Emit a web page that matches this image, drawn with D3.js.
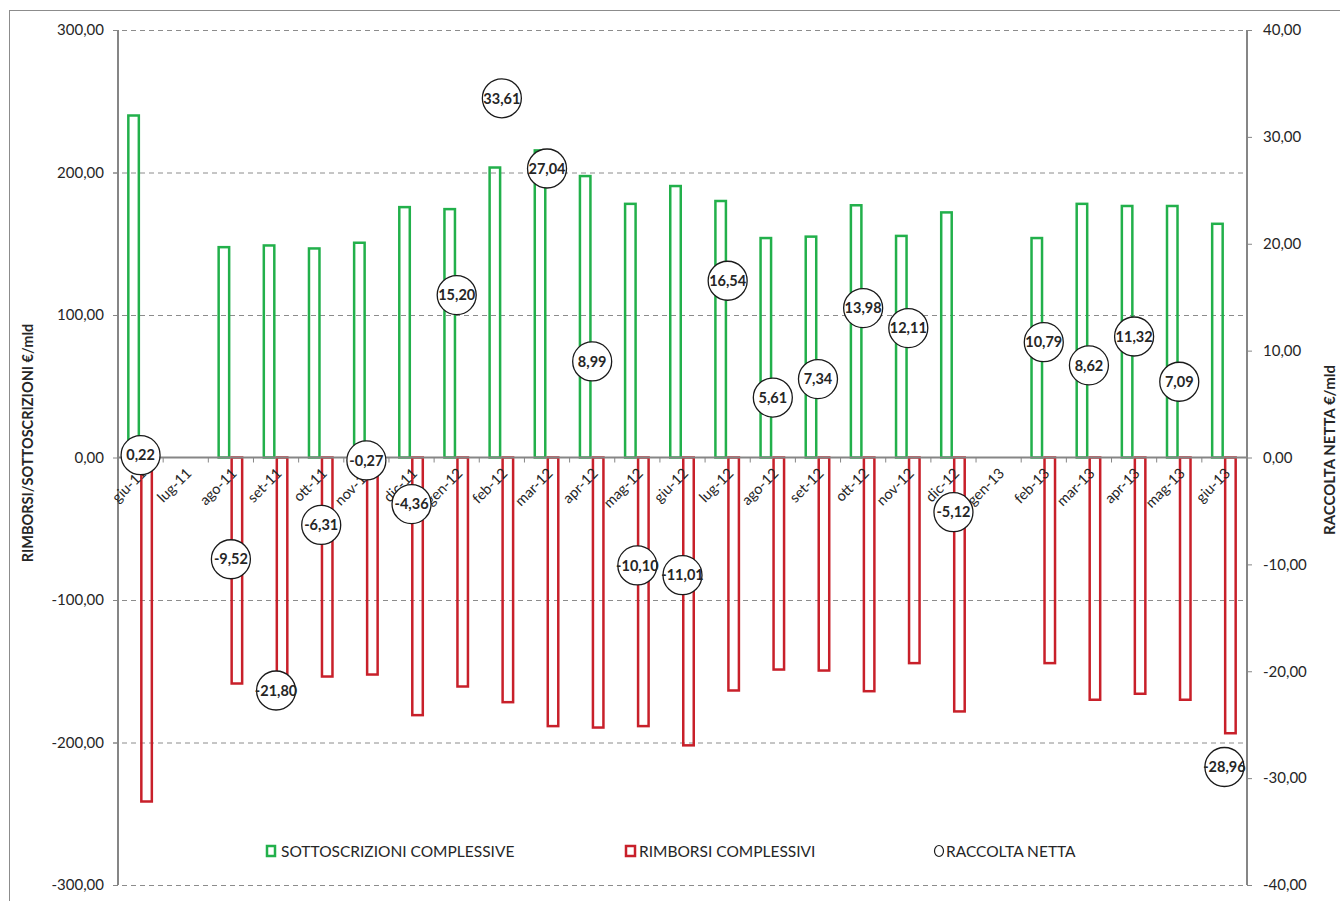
<!DOCTYPE html>
<html><head><meta charset="utf-8">
<script src="https://cdn.jsdelivr.net/npm/d3@7"></script>
<style>body{margin:0;background:#fff}svg{display:block;font-family:Lato,"Open Sans",sans-serif}</style>
</head><body><svg id="c" width="1340" height="901"></svg>
<script>
const categories=["giu-11","lug-11","ago-11","set-11","ott-11","nov-11","dic-11","gen-12","feb-12","mar-12","apr-12","mag-12","giu-12","lug-12","ago-12","set-12","ott-12","nov-12","dic-12","gen-13","feb-13","mar-13","apr-13","mag-13","giu-13"];
const sottoscrizioni=[240,null,147.6,148.8,146.7,150.7,175.7,174.3,203.5,215.5,197.5,178,190.5,180,154,155,177,155.5,172,null,154,178,176.5,176.5,164];
const rimborsi=[-241.4,null,-158.6,-170.8,-153.7,-152.3,-180.8,-160.7,-171.7,-188.5,-189.5,-188.5,-202,-163.5,-148.8,-149.5,-164,-144.3,-178.2,null,-144.3,-170,-165.8,-170,-193.5];
const raccoltaNetta=[0.22,null,-9.52,-21.80,-6.31,-0.27,-4.36,15.20,33.61,27.04,8.99,-10.10,-11.01,16.54,5.61,7.34,13.98,12.11,-5.12,null,10.79,8.62,11.32,7.09,-28.96];
const leftTicks=[300,200,100,0,-100,-200,-300];
const rightTicks=[40,30,20,10,0,-10,-20,-30,-40];
const seriesNames=["SOTTOSCRIZIONI COMPLESSIVE","RIMBORSI COMPLESSIVI","RACCOLTA NETTA"];

const svg=d3.select("#c");
const L=118,R=1247,T=30,B=885;
const green="#22b04b",red="#c8202a",axisCol="#868686",txt="#262626";
const fmt=v=>d3.format(".2f")(v).replace("\u2212","-").replace(".",",");

svg.append("rect").attr("x",9.5).attr("y",10.5).attr("width",1340).attr("height",900).attr("fill","none").attr("stroke","#8c8c8c").attr("stroke-width",1);

const x=d3.scaleBand().domain(categories).range([L,R]).padding(0);
const xs=d3.scaleBand().domain(["s","r"]).range([x.bandwidth()/2-13.5,x.bandwidth()/2+12.5]);
const yL=d3.scaleLinear().domain([-300,300]).range([B,T]);
const yR=d3.scaleLinear().domain([-40,40]).range([B,T]);

// gridlines
svg.append("g").selectAll("line").data(leftTicks.filter(d=>d!==0)).join("line")
 .attr("x1",L-5).attr("x2",R).attr("y1",d=>yL(d)+0.5).attr("y2",d=>yL(d)+0.5)
 .attr("stroke","#8c8c8c").attr("stroke-width",1).attr("stroke-dasharray","5,4");

// left axis
const gL=svg.append("g").attr("transform",`translate(${L},0)`)
 .call(d3.axisLeft(yL).tickValues(leftTicks).tickSize(5).tickPadding(9).tickFormat(fmt));
gL.select(".domain").attr("stroke",axisCol).attr("stroke-width",2).attr("d",`M0,${T}V${B}`);
gL.selectAll(".tick line").attr("stroke",axisCol);
gL.selectAll("text").attr("font-family","Lato").attr("font-size",15).attr("fill",txt);

// right axis
const gR=svg.append("g").attr("transform",`translate(${R},0)`)
 .call(d3.axisRight(yR).tickValues(rightTicks).tickSize(5).tickPadding(11).tickFormat(fmt));
gR.select(".domain").attr("stroke",axisCol).attr("stroke-width",2).attr("d",`M0,${T}V${B}`);
gR.selectAll(".tick line").attr("stroke",axisCol);
gR.selectAll("text").attr("font-family","Lato").attr("font-size",15).attr("fill",txt);

// bars
const bars=svg.append("g");
bars.selectAll("rect.s").data(categories.map((c,i)=>({c,v:sottoscrizioni[i]})).filter(d=>d.v!=null)).join("rect")
 .attr("x",d=>x(d.c)+xs("s")+1.25).attr("width",xs.bandwidth()-2.5)
 .attr("y",d=>yL(d.v)).attr("height",d=>yL(0)-yL(d.v))
 .attr("fill","none").attr("stroke",green).attr("stroke-width",2.5);
bars.selectAll("rect.r").data(categories.map((c,i)=>({c,v:rimborsi[i]})).filter(d=>d.v!=null)).join("rect")
 .attr("x",d=>x(d.c)+xs("r")+1.25).attr("width",xs.bandwidth()-2.5)
 .attr("y",yL(0)).attr("height",d=>yL(d.v)-yL(0))
 .attr("fill","none").attr("stroke",red).attr("stroke-width",2.5);

// x axis at zero
const gX=svg.append("g").attr("transform",`translate(0,${yL(0)})`);
gX.append("line").attr("x1",L).attr("x2",R).attr("stroke",axisCol).attr("stroke-width",2);
gX.selectAll("line.t").data(categories.slice(1)).join("line")
 .attr("x1",d=>x(d)).attr("x2",d=>x(d)).attr("y1",0).attr("y2",5).attr("stroke",axisCol).attr("stroke-width",1);
gX.selectAll("text").data(categories).join("text")
 .attr("transform",d=>`translate(${x(d)+x.bandwidth()/2-1},${9}) rotate(-45)`)
 .attr("text-anchor","end").attr("dy","0.75em").attr("font-size",14.5).attr("fill",txt).text(d=>d);

// circles
const pts=categories.map((c,i)=>({c,v:raccoltaNetta[i]})).filter(d=>d.v!=null);
const gc=svg.append("g");
gc.selectAll("circle").data(pts).join("circle")
 .attr("cx",d=>x(d.c)+x.bandwidth()/2).attr("cy",d=>yR(d.v)).attr("r",19.5)
 .attr("fill","#fff").attr("stroke","#1a1a1a").attr("stroke-width",1.3);
gc.selectAll("text").data(pts).join("text")
 .attr("x",d=>x(d.c)+x.bandwidth()/2).attr("y",d=>yR(d.v)).attr("dy","0.36em")
 .attr("text-anchor","middle").attr("font-weight","bold").attr("font-size",14.5).attr("fill",txt)
 .text(d=>fmt(d.v));

// axis titles
svg.append("text").attr("transform",`translate(28,${443}) rotate(-90)`).attr("text-anchor","middle")
 .attr("dy","0.35em").attr("font-weight","bold").attr("font-size",14.5).attr("fill",txt).text("RIMBORSI/SOTTOSCRIZIONI €/mld");
svg.append("text").attr("transform",`translate(1330,${450}) rotate(-90)`).attr("text-anchor","middle")
 .attr("dy","0.35em").attr("font-weight","bold").attr("font-size",15).attr("fill",txt).text("RACCOLTA NETTA €/mld");

// legend
const lg=svg.append("g").attr("transform","translate(0,851)");
const lx=[267,626,935];
lg.append("rect").attr("x",lx[0]).attr("y",-5).attr("width",8).attr("height",10).attr("fill","none").attr("stroke",green).attr("stroke-width",2.5);
lg.append("rect").attr("x",lx[1]).attr("y",-5).attr("width",9).attr("height",10).attr("fill","none").attr("stroke",red).attr("stroke-width",2.5);
lg.append("ellipse").attr("cx",lx[2]+4).attr("cy",0).attr("rx",4.5).attr("ry",5.5).attr("fill","none").attr("stroke","#1a1a1a").attr("stroke-width",1.2);
lg.selectAll("text").data(seriesNames).join("text")
 .attr("x",(d,i)=>lx[i]+[14,13,11][i]).attr("y",0).attr("dy","0.36em")
 .attr("font-size",15.5).attr("fill",txt).text(d=>d);
</script></body></html>
